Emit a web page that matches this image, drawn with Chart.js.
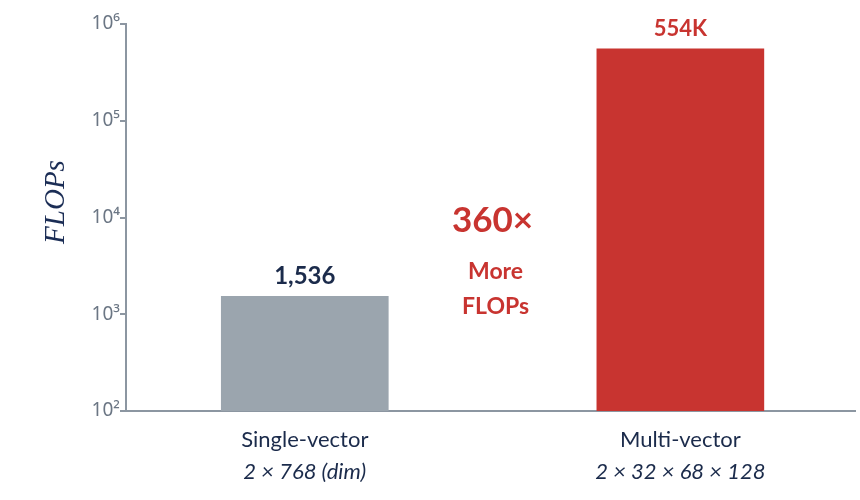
<!DOCTYPE html>
<html><head><meta charset="utf-8">
<script src="https://cdn.jsdelivr.net/npm/chart.js@4.4.0/dist/chart.umd.min.js"></script>
<style>html,body{margin:0;padding:0;background:#fff}#wrap{width:860px;height:500px}</style>
</head><body><div id="wrap"><canvas id="c" width="860" height="500"></canvas></div>
<script>
const categories = ['Single-vector', 'Multi-vector'];
const subLabels = ['2 × 768 (dim)', '2 × 32 × 68 × 128'];
const values = [1536, 554000];
const valueLabels = ['1,536', '554K'];
const barColors = ['#9ba5ae', '#c83430'];
const valueColors = ['#1b2b4b', '#c83430'];
const yTicks = [100, 1000, 10000, 100000, 1000000];
const yTickLabels = ['10²', '10³', '10⁴', '10⁵', '10⁶'];
const annotation = ['360×', 'More', 'FLOPs'];

const NAVY = '#1b2b4b';
const AXIS = '#8c96a1';
const FONT = 'Lato, "Open Sans", sans-serif';

const overlay = {
  id: 'overlay',
  afterDraw(chart) {
    const ctx = chart.ctx;
    const xs = chart.scales.x, ys = chart.scales.y;
    ctx.save();
    ctx.textAlign = 'center';
    ctx.textBaseline = 'middle';
    values.forEach((v, i) => {
      const px = xs.getPixelForValue(i);
      const py = ys.getPixelForValue(v);
      ctx.fillStyle = valueColors[i];
      ctx.font = 'bold ' + (i === 0 ? 24 : 22) + 'px ' + FONT;
      ctx.fillText(valueLabels[i], px, py - 20);
      ctx.fillStyle = NAVY;
      ctx.font = '22px ' + FONT;
      ctx.fillText(categories[i], px, 440);
      ctx.font = 'italic 22px ' + FONT;
      ctx.fillText(subLabels[i], px, 472);
    });
    const mid = (xs.getPixelForValue(0) + xs.getPixelForValue(1)) / 2;
    ctx.fillStyle = '#c83430';
    ctx.font = 'bold 35px ' + FONT;
    ctx.fillText(annotation[0], mid, 221);
    ctx.font = 'bold 23px ' + FONT;
    ctx.fillText(annotation[1], mid + 3, 272);
    ctx.fillText(annotation[2], mid + 3, 307);
    ctx.translate(56, 202);
    ctx.rotate(-Math.PI / 2);
    ctx.fillStyle = '#1b2d55';
    ctx.font = 'italic 29px "Liberation Serif", "DejaVu Serif", serif';
    ctx.fillText('FLOPs', 0, 0);
    ctx.restore();
  }
};

new Chart(document.getElementById('c'), {
  type: 'bar',
  data: {
    datasets: [{
      data: values.map((v, i) => ({ x: i, y: v })),
      backgroundColor: barColors,
      barThickness: 167,
      borderWidth: 0
    }]
  },
  options: {
    responsive: false,
    animation: false,
    events: [],
    layout: { padding: { top: 24, right: 5, left: 0, bottom: 0 } },
    plugins: { legend: { display: false }, tooltip: { enabled: false } },
    scales: {
      x: {
        type: 'linear',
        min: -0.476,
        max: 1.465,
        afterBuildTicks: s => { s.ticks = []; },
        ticks: { display: false },
        grid: { display: false },
        border: { display: true, color: AXIS, width: 2 },
        afterFit: s => { s.height = 89; }
      },
      y: {
        type: 'logarithmic',
        min: 100,
        max: 1000000,
        afterBuildTicks: s => { s.ticks = yTicks.map(v => ({ value: v })); },
        ticks: {
          autoSkip: false,
          color: '#6b7684',
          font: { family: '"Noto Sans", Lato, sans-serif', size: 19 },
          padding: 0,
          callback: (v) => { const k = yTicks.indexOf(v); return k >= 0 ? yTickLabels[k] : ''; }
        },
        grid: { drawOnChartArea: false, drawTicks: true, tickLength: 6, color: AXIS, lineWidth: 2 },
        border: { display: true, color: AXIS, width: 2 },
        afterFit: s => { s.width = 126; }
      }
    }
  },
  plugins: [overlay]
});
</script></body></html>
